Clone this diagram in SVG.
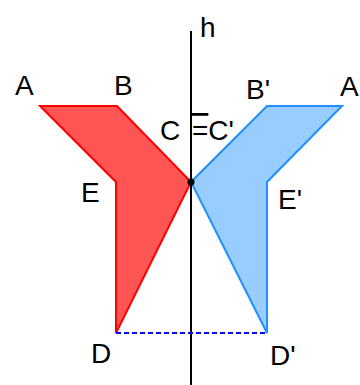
<svg xmlns="http://www.w3.org/2000/svg" width="360" height="385" viewBox="0 0 360 385">
<style>
text{font-family:"Liberation Sans",Arial,sans-serif;font-size:28px;fill:#000}
.red{fill:#ff5555;stroke:#ff0000;stroke-width:2;stroke-linejoin:miter}
.blue{fill:#99ccff;stroke:#1e90ff;stroke-width:2;stroke-linejoin:miter}
</style>
<rect width="360" height="385" fill="#fff"/>
<g id="shape-red"><polygon class="red" points="40,106 117,106 191,182 116,333 116,182"/></g>
<g id="shape-blue"><polygon class="blue" points="342,106 267,106 191,182 267,333 267,182"/></g>
<g id="connectors">
<line x1="191" y1="31" x2="191" y2="385" stroke="#000" stroke-width="2"/>
<line x1="116" y1="333" x2="267" y2="333" stroke="#0000ff" stroke-width="2" stroke-dasharray="5,3"/>
</g>
<g id="point-C"><circle cx="191" cy="182" r="3.5" fill="#000"/></g>
<g id="labels">
<text x="200" y="37">h</text>
<text x="15" y="95">A</text>
<text x="114" y="95">B</text>
<text x="246" y="99">B'</text>
<text x="340" y="96">A'</text>
<text x="160" y="140">C</text>
<text x="192" y="140"><tspan text-decoration="overline">=</tspan>C'</text>
<text x="81" y="202">E</text>
<text x="278" y="209">E'</text>
<text x="91" y="363">D</text>
<text x="270" y="365">D'</text>
</g>
</svg>
